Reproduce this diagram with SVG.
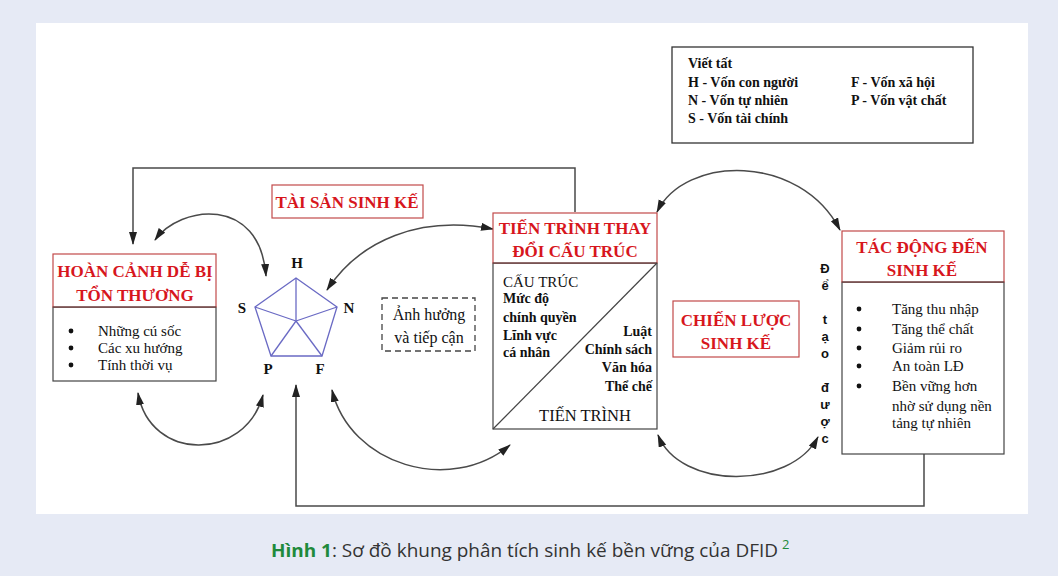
<svg xmlns="http://www.w3.org/2000/svg" width="1058" height="576" viewBox="0 0 1058 576">
<defs>
<style>
.serif{font-family:"Liberation Serif","Times New Roman",serif;fill:#111}
.title{font-family:"Liberation Serif","Times New Roman",serif;font-weight:bold;font-size:17px;fill:#d7161d;text-anchor:middle}
.body{font-size:15px}
.leg{font-size:14px;font-weight:bold}
.pbody{font-size:14px;font-weight:bold}
.lbl{font-size:15px;font-weight:bold;text-anchor:middle}
.redbox{fill:#fff;stroke:#c24a4a;stroke-width:1.2}
.blackbox{fill:#fff;stroke:#444;stroke-width:1.2}
.conn{fill:none;stroke:#4a4a4a;stroke-width:1.5}
.pent{fill:none;stroke:#6a6ac4;stroke-width:1.3}
.vert{font-family:"Liberation Sans",Arial,sans-serif;font-weight:bold;font-size:13px;fill:#111;text-anchor:middle}
</style>
<marker id="ah" markerUnits="userSpaceOnUse" markerWidth="14" markerHeight="10" refX="12" refY="4" orient="auto-start-reverse">
<path d="M0,0 L13,4 L0,8 z" fill="#222"/>
</marker>
</defs>
<rect x="0" y="0" width="1058" height="576" fill="#e6eaf5"/>
<rect x="36" y="23" width="992" height="491" fill="#fff"/>

<g id="legend">
<rect x="672" y="47" width="301" height="96" fill="#fff" stroke="#333" stroke-width="1.3"/>
<text class="serif leg" x="688" y="68">Viết tất</text>
<text class="serif leg" x="688" y="87">H - Vốn con người</text>
<text class="serif leg" x="688" y="105">N - Vốn tự nhiên</text>
<text class="serif leg" x="688" y="123">S  - Vốn tài chính</text>
<text class="serif leg" x="851" y="87">F - Vốn xã hội</text>
<text class="serif leg" x="851" y="105">P - Vốn vật chất</text>
</g>

<g id="connectors">
<polyline class="conn" points="575,212 575,168 133,168 133,244" marker-end="url(#ah)"/>
<polyline class="conn" points="924,454 924,506 296,506 296,385" marker-end="url(#ah)"/>
<path class="conn" d="M155,240 C180,205 260,195 266,276" marker-start="url(#ah)" marker-end="url(#ah)"/>
<path class="conn" d="M327,290 C360,240 420,215 493,229" marker-start="url(#ah)" marker-end="url(#ah)"/>
<path class="conn" d="M657,212 C685,155 800,153 840,230" marker-start="url(#ah)" marker-end="url(#ah)"/>
<path class="conn" d="M658,435 C680,490 790,490 818,437" marker-start="url(#ah)" marker-end="url(#ah)"/>
<path class="conn" d="M138,393 C150,462 245,462 263,395" marker-start="url(#ah)" marker-end="url(#ah)"/>
<path class="conn" d="M332,390 C350,465 450,495 510,445" marker-start="url(#ah)" marker-end="url(#ah)"/>
</g>

<g id="hoan-canh">
<rect class="blackbox" x="53" y="307" width="163" height="74"/>
<rect class="redbox" x="53" y="254" width="163" height="53"/>
<line x1="53" y1="307" x2="216" y2="307" stroke="#444" stroke-width="1.2"/>
<text class="title" x="135" y="277">HOÀN CẢNH DỄ BỊ</text>
<text class="title" x="135" y="301">TỔN THƯƠNG</text>
<circle cx="71" cy="331" r="2.4" fill="#111"/>
<circle cx="71" cy="348" r="2.4" fill="#111"/>
<circle cx="71" cy="365" r="2.4" fill="#111"/>
<text class="serif body" x="98" y="336">Những cú sốc</text>
<text class="serif body" x="98" y="353">Các xu hướng</text>
<text class="serif body" x="98" y="370">Tính thời vụ</text>
</g>

<g id="tai-san">
<rect class="redbox" x="272" y="185" width="151" height="33"/>
<text class="title" x="347" y="208">TÀI SẢN SINH KẾ</text>
</g>

<g id="pentagon">
<polygon class="pent" points="296,278 337,307 322,356 271,356 255,307"/>
<line class="pent" x1="296" y1="321" x2="296" y2="278"/>
<line class="pent" x1="296" y1="321" x2="337" y2="307"/>
<line class="pent" x1="296" y1="321" x2="322" y2="356"/>
<line class="pent" x1="296" y1="321" x2="271" y2="356"/>
<line class="pent" x1="296" y1="321" x2="255" y2="307"/>
<text class="serif lbl" x="297" y="268">H</text>
<text class="serif lbl" x="242" y="313">S</text>
<text class="serif lbl" x="349" y="313">N</text>
<text class="serif lbl" x="268" y="374">P</text>
<text class="serif lbl" x="320" y="374">F</text>
</g>

<g id="anh-huong">
<rect x="382" y="298" width="93" height="53" fill="#fff" stroke="#444" stroke-width="1.3" stroke-dasharray="6,4"/>
<text class="serif" font-size="16" text-anchor="middle" x="429" y="320">Ảnh hưởng</text>
<text class="serif" font-size="16" text-anchor="middle" x="429" y="343">và tiếp cận</text>
</g>

<g id="tien-trinh">
<rect class="blackbox" x="493" y="263" width="164" height="166"/>
<rect class="redbox" x="493" y="213" width="164" height="50"/>
<line x1="493" y1="263" x2="657" y2="263" stroke="#444" stroke-width="1.2"/>
<line x1="493" y1="429" x2="657" y2="263" stroke="#444" stroke-width="1.2"/>
<text class="title" x="575" y="234">TIẾN TRÌNH THAY</text>
<text class="title" x="575" y="257">ĐỔI CẤU TRÚC</text>
<text class="serif" font-size="15" x="503" y="287">CẤU TRÚC</text>
<text class="serif pbody" x="503" y="303">Mức độ</text>
<text class="serif pbody" x="503" y="322">chính quyền</text>
<text class="serif pbody" x="503" y="340">Lĩnh vực</text>
<text class="serif pbody" x="503" y="357">cá nhân</text>
<text class="serif pbody" text-anchor="end" x="652" y="336">Luật</text>
<text class="serif pbody" text-anchor="end" x="652" y="354">Chính sách</text>
<text class="serif pbody" text-anchor="end" x="652" y="372">Văn hóa</text>
<text class="serif pbody" text-anchor="end" x="652" y="391">Thể chế</text>
<text class="serif" font-size="16.5" text-anchor="middle" x="585" y="421">TIẾN TRÌNH</text>
</g>

<g id="chien-luoc">
<rect class="redbox" x="673" y="301" width="126" height="56"/>
<text class="title" x="736" y="326">CHIẾN LƯỢC</text>
<text class="title" x="736" y="349">SINH KẾ</text>
</g>

<g id="de-tao-duoc">
<text class="vert"><tspan x="825" y="273">Đ</tspan><tspan x="825" y="290">ể</tspan><tspan x="825" y="307"> </tspan><tspan x="825" y="324">t</tspan><tspan x="825" y="341">ạ</tspan><tspan x="825" y="358">o</tspan><tspan x="825" y="375"> </tspan><tspan x="825" y="392">đ</tspan><tspan x="825" y="409">ư</tspan><tspan x="825" y="426">ợ</tspan><tspan x="825" y="443">c</tspan></text>
</g>

<g id="tac-dong">
<rect class="blackbox" x="842" y="282" width="162" height="172"/>
<rect class="redbox" x="842" y="231" width="162" height="51"/>
<line x1="842" y1="282" x2="1004" y2="282" stroke="#444" stroke-width="1.2"/>
<text class="title" x="922" y="253">TÁC ĐỘNG ĐẾN</text>
<text class="title" x="922" y="276">SINH KẾ</text>
<circle cx="859" cy="309" r="2.4" fill="#111"/>
<circle cx="859" cy="329" r="2.4" fill="#111"/>
<circle cx="859" cy="348" r="2.4" fill="#111"/>
<circle cx="859" cy="366" r="2.4" fill="#111"/>
<circle cx="859" cy="386" r="2.4" fill="#111"/>
<text class="serif body" x="892" y="314">Tăng thu nhập</text>
<text class="serif body" x="892" y="334">Tăng thể chất</text>
<text class="serif body" x="892" y="353">Giảm rủi ro</text>
<text class="serif body" x="892" y="371">An toàn LĐ</text>
<text class="serif body" x="892" y="391">Bền vững hơn</text>
<text class="serif body" x="892" y="411">nhờ sử dụng nền</text>
<text class="serif body" x="892" y="428">tảng tự nhiên</text>
</g>

<g id="caption">
<text font-family="'Open Sans','Noto Sans',sans-serif" font-size="18" fill="#333" x="271" y="557" textLength="507" lengthAdjust="spacingAndGlyphs"><tspan fill="#1f8a3c" font-weight="bold">Hình 1</tspan>: Sơ đồ khung phân tích sinh kế bền vững của DFID</text>
<text font-family="'Open Sans','Noto Sans',sans-serif" font-size="13" fill="#1f8a3c" x="782" y="549">2</text>
</g>
</svg>
